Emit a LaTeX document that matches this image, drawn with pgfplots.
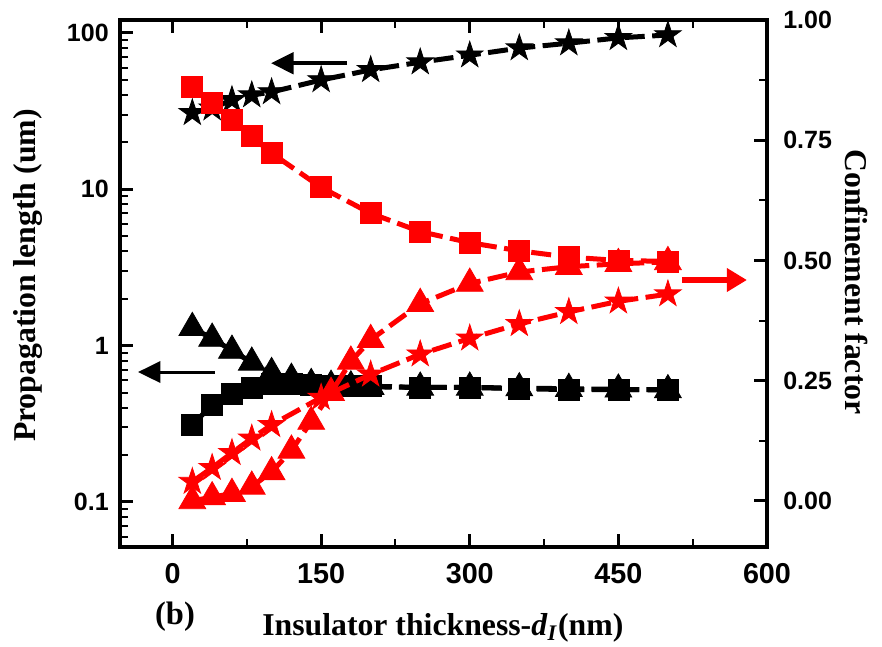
\documentclass[border=0pt]{standalone}
\usepackage{fontspec}
\setmainfont{Liberation Serif}
\newfontfamily\arial{Liberation Sans}
\usepackage{pgfplots}
\pgfplotsset{compat=1.18}
\usetikzlibrary{arrows.meta}

\pgfdeclareplotmark{fstar}{%
  \pgfpathmoveto{\pgfqpoint{0pt}{\pgfplotmarksize}}%
  \pgfpathlineto{\pgfqpoint{0.2245\pgfplotmarksize}{0.3090\pgfplotmarksize}}%
  \pgfpathlineto{\pgfqpoint{0.9511\pgfplotmarksize}{0.3090\pgfplotmarksize}}%
  \pgfpathlineto{\pgfqpoint{0.3633\pgfplotmarksize}{-0.1180\pgfplotmarksize}}%
  \pgfpathlineto{\pgfqpoint{0.5878\pgfplotmarksize}{-0.8090\pgfplotmarksize}}%
  \pgfpathlineto{\pgfqpoint{0pt}{-0.3820\pgfplotmarksize}}%
  \pgfpathlineto{\pgfqpoint{-0.5878\pgfplotmarksize}{-0.8090\pgfplotmarksize}}%
  \pgfpathlineto{\pgfqpoint{-0.3633\pgfplotmarksize}{-0.1180\pgfplotmarksize}}%
  \pgfpathlineto{\pgfqpoint{-0.9511\pgfplotmarksize}{0.3090\pgfplotmarksize}}%
  \pgfpathlineto{\pgfqpoint{-0.2245\pgfplotmarksize}{0.3090\pgfplotmarksize}}%
  \pgfpathclose
  \pgfusepathqfillstroke
}

\definecolor{myred}{RGB}{255,0,0}

\pgfplotstableread{
x y
20 30.8
40 33
60 37.3
80 40
100 41.9
150 50
200 58
250 65
300 72
350 80
400 86
450 93
500 97
}\blackstars

\pgfplotstableread{
x y
20 0.31
40 0.42
60 0.49
80 0.54
100 0.57
120 0.57
140 0.56
160 0.55
180 0.55
200 0.55
250 0.54
300 0.54
350 0.53
400 0.523
450 0.523
500 0.523
}\blacksquares

\pgfplotstableread{
x y
20 1.30
40 1.11
60 0.93
80 0.78
100 0.67
120 0.615
140 0.57
160 0.555
180 0.55
200 0.545
250 0.54
300 0.54
350 0.535
400 0.53
450 0.525
500 0.52
}\blacktriangles

\pgfplotstableread{
x y
20 0.860
40 0.827
60 0.792
80 0.758
100 0.723
150 0.652
200 0.598
250 0.560
300 0.537
350 0.520
400 0.507
450 0.500
500 0.498
}\redsquares

\pgfplotstableread{
x y
20 0.000
40 0.008
60 0.015
80 0.030
100 0.060
120 0.105
140 0.165
160 0.225
180 0.290
200 0.335
250 0.410
300 0.452
350 0.476
400 0.487
450 0.493
500 0.497
}\redtriangles

\pgfplotstableread{
x y
20 0.040
40 0.069
60 0.100
80 0.130
100 0.158
150 0.215
200 0.263
250 0.305
300 0.338
350 0.368
400 0.393
450 0.415
500 0.430
}\redstars

\pgfplotsset{
  common/.style={
    scale only axis, width=258.8pt, height=210.8pt,
    xmin=-53, xmax=600,
    clip=false,
    axis line style={line width=1.8pt},
    every tick/.style={black, line width=1.2pt},
    minor tick style={line width=0.8pt},
    major tick length=5.2pt, minor tick length=3.2pt,
    tick align=inside,
    /pgf/number format/assume math mode=true,
    yticklabel style={font=\arial\bfseries\fontsize{10}{11}\selectfont},
    xticklabel style={font=\arial\bfseries\fontsize{11.5}{12}\selectfont},
  },
  ser/.style={line width=2pt, dash pattern=on 8pt off 3pt, mark options={solid, line width=0.3pt}},
}

\begin{document}
\begin{tikzpicture}
\begin{axis}[common, ymode=log, ymin=0.0515, ymax=121,
  xtick={0,150,300,450,600}, xticklabels={0,150,300,450,600},
  minor xtick={75,225,375,525}, xtick pos=both,
  xticklabel style={yshift=-3pt},
  ytick={0.1,1,10,100}, yticklabels={0.1,1,10,100},
  minor ytick={0.06,0.07,0.08,0.09,0.2,0.3,0.4,0.5,0.6,0.7,0.8,0.9,2,3,4,5,6,7,8,9,20,30,40,50,60,70,80,90},
  ytick pos=left,
  yticklabel style={xshift=-1pt},
]
\addplot[ser, black, mark=triangle*, mark size=6.2pt] table[x=x,y=y] {\blacktriangles};
\addplot[ser, black, mark=square*, mark size=4.2pt] table[x=x,y=y] {\blacksquares};
\addplot[ser, black, mark=fstar, mark size=5.6pt] table[x=x,y=y] {\blackstars};
\draw[black, line width=1.6pt, -{Triangle[length=9pt,width=8.5pt]}] (rel axis cs:0.3509,0.918) -- (rel axis cs:0.2334,0.918);
\draw[black, line width=1.2pt, -{Triangle[length=9pt,width=8.5pt]}] (rel axis cs:0.1468,0.332) -- (rel axis cs:0.0278,0.332);
\node[rotate=90, font=\bfseries\fontsize{12.7}{14}\selectfont] at (rel axis cs:-0.142,0.515) {Propagation length (um)};
\node[font=\bfseries\fontsize{12.7}{14}\selectfont] at (rel axis cs:0.499,-0.154) {Insulator thickness-\textit{d}\textsubscript{\textit{I}}(nm)};
\node[font=\bfseries\fontsize{13}{14}\selectfont] at (rel axis cs:0.085,-0.132) {(b)};
\end{axis}
\begin{axis}[common, ymin=-0.0958, ymax=1.0,
  axis y line*=right, axis x line=none,
  ytick={0,0.25,0.5,0.75,1}, yticklabels={0.00,0.25,0.50,0.75,1.00},
  minor ytick={0.125,0.375,0.625,0.875},
  yticklabel style={xshift=3pt},
]
\addplot[ser, myred, mark=triangle*, mark size=6.2pt] table[x=x,y=y] {\redtriangles};
\addplot[ser, myred, mark=fstar, mark size=5.6pt] table[x=x,y=y] {\redstars};
\addplot[ser, myred, mark=square*, mark size=4.2pt] table[x=x,y=y] {\redsquares};
\draw[myred, line width=2.4pt, -{Triangle[length=8pt,width=9pt]}] (rel axis cs:0.8686,0.5066) -- (rel axis cs:0.969,0.5066);
\node[rotate=-90, font=\bfseries\fontsize{12.7}{14}\selectfont] at (rel axis cs:1.139,0.503) {Confinement factor};
\end{axis}
\pgfresetboundingbox
\path[use as bounding box] (-48pt,-40pt) rectangle (304.8pt,218.8pt);
\end{tikzpicture}
\end{document}
